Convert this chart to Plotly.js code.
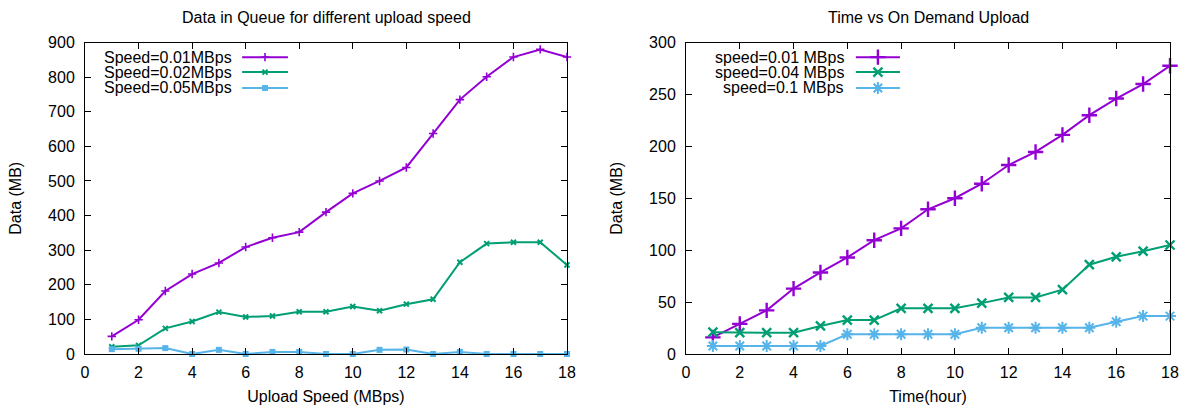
<!DOCTYPE html>
<html>
<head>
<meta charset="utf-8">
<script src="https://cdn.plot.ly/plotly-3.0.1.min.js"></script>
<style>
  html, body { margin: 0; padding: 0; background: #fff; }
  #chart { width: 1187px; height: 409px; }
</style>
</head>
<body>
<div id="chart"></div>
<script>
// ---- Data: queue size vs upload speed ----
const queueX = [1,2,3,4,5,6,7,8,9,10,11,12,13,14,15,16,17,18];
const queue001 = [51,99,182,231,263,309,336,352,410,464,500,539,637,735,801,858,880,858];
const queue002 = [21,25,74,94,121,107,110,122,122,137,125,144,158,265,319,323,323,257];
const queue005 = [14,15,17,0,12,0,6,6,0,0,12,13,0,6,0,0,0,0];
const queueNames = ['Speed=0.01MBps', 'Speed=0.02MBps', 'Speed=0.05MBps'];

// ---- Data: accumulated data vs time ----
const timeX = [1,2,3,4,5,6,7,8,9,10,11,12,13,14,15,16,17,18];
const demand001 = [16,29,42,63,78.5,93,109.6,121,139.4,150,164,182,194.6,211,230,246,260,277.6];
const demand004 = [21,20.5,20.5,20.5,27,32.7,32.7,44,44,44,49,54.5,54.5,62,86,93.6,99,105];
const demand01 = [7.7,7.7,7.7,7.7,7.7,19,19,19,19,19,25.3,25.3,25.3,25.3,25.3,31,36.5,36.5];
const demandNames = ['speed=0.01 MBps', 'speed=0.04 MBps', 'speed=0.1 MBps'];

const PURPLE = '#9400d3', GREEN = '#009e73', BLUE = '#56b4e9';
const FONT = 'Liberation Sans, Arial, sans-serif';

// plot-area geometry in figure fractions
const W = 1187, H = 409;
const yDom = [(H - 354) / H, (H - 42.5) / H];
const leftDom = [85 / W, 567 / W];
const rightDom = [686 / W, 1170 / W];

const leftStyles = [
  {color: PURPLE, symbol: 'cross-thin-open', size: 6, lw: 1.6},
  {color: GREEN, symbol: 'x-thin-open', size: 5, lw: 2},
  {color: BLUE, symbol: 'square', size: 6, lw: 0}
];
const rightStyles = [
  {color: PURPLE, symbol: 'cross-thin-open', size: 11, lw: 2.4},
  {color: GREEN, symbol: 'x-thin-open', size: 9, lw: 2.4},
  {color: BLUE, symbol: 'asterisk-open', size: 10, lw: 2}
];

function series(x, y, st, xa, ya) {
  return {
    x: x, y: y, xaxis: xa, yaxis: ya, type: 'scatter', mode: 'lines+markers',
    showlegend: false, cliponaxis: false, hoverinfo: 'skip',
    line: {color: st.color, width: 2},
    marker: {color: st.color, symbol: st.symbol, size: st.size,
             line: {color: st.color, width: st.lw}}
  };
}

// legend sample: short line with a marker in its middle, on an overlay axis in [0,1]
function sample(x0, x1, yv, st, xa, ya) {
  return [
    {x: [x0, x1], y: [yv, yv], xaxis: xa, yaxis: ya, mode: 'lines', showlegend: false,
     hoverinfo: 'skip', cliponaxis: false, line: {color: st.color, width: 2}},
    {x: [(x0 + x1) / 2], y: [yv], xaxis: xa, yaxis: ya, mode: 'markers', showlegend: false,
     hoverinfo: 'skip', cliponaxis: false,
     marker: {color: st.color, symbol: st.symbol, size: st.size,
              line: {color: st.color, width: st.lw}}}
  ];
}

const rowsY = [0.953, 0.905, 0.854];
const traces = [
  series(queueX, queue001, leftStyles[0], 'x', 'y'),
  series(queueX, queue002, leftStyles[1], 'x', 'y'),
  series(queueX, queue005, leftStyles[2], 'x', 'y'),
  series(timeX, demand001, rightStyles[0], 'x2', 'y2'),
  series(timeX, demand004, rightStyles[1], 'x2', 'y2'),
  series(timeX, demand01, rightStyles[2], 'x2', 'y2')
];
const annotations = [];
for (let i = 0; i < 3; i++) {
  traces.push(...sample(0.326, 0.421, rowsY[i], leftStyles[i], 'x3', 'y3'));
  traces.push(...sample(0.351, 0.442, rowsY[i], rightStyles[i], 'x4', 'y4'));
  annotations.push({xref: 'x3', yref: 'y3', x: 0.035, y: rowsY[i], text: queueNames[i],
    showarrow: false, xanchor: 'left', yanchor: 'middle', font: {family: FONT, size: 16, color: '#000'}});
  annotations.push({xref: 'x4', yref: 'y4', x: 0.331, y: rowsY[i], text: demandNames[i],
    showarrow: false, xanchor: 'right', yanchor: 'middle', font: {family: FONT, size: 16, color: '#000'}});
}
annotations.push({xref: 'paper', yref: 'paper', x: (leftDom[0] + leftDom[1]) / 2, y: (H - 18) / H,
  text: 'Data in Queue for different upload speed', showarrow: false, xanchor: 'center', yanchor: 'middle',
  font: {family: FONT, size: 16, color: '#000'}});
annotations.push({xref: 'paper', yref: 'paper', x: (rightDom[0] + rightDom[1]) / 2, y: (H - 18) / H,
  text: 'Time vs On Demand Upload', showarrow: false, xanchor: 'center', yanchor: 'middle',
  font: {family: FONT, size: 16, color: '#000'}});

function axis(dom, range, dtick, anchor, title, standoff, labelGap) {
  return {
    domain: dom, range: range, dtick: dtick, tick0: 0, anchor: anchor,
    showgrid: false, zeroline: false, showline: true, linecolor: '#000', linewidth: 1,
    mirror: 'ticks', ticks: 'inside', ticklen: 6, tickcolor: '#000', tickwidth: 1,
    ticklabelstandoff: labelGap,
    tickfont: {family: FONT, size: 16, color: '#000'},
    title: {text: title, font: {family: FONT, size: 16, color: '#000'}, standoff: standoff},
    automargin: false, fixedrange: true
  };
}
function overlay(dom, anchor, overlaying) {
  return {domain: dom, range: [0, 1], anchor: anchor, overlaying: overlaying, visible: false, fixedrange: true};
}

const layout = {
  width: W, height: H,
  margin: {l: 0, r: 0, t: 0, b: 0},
  paper_bgcolor: '#fff', plot_bgcolor: '#fff',
  showlegend: false,
  xaxis: axis(leftDom, [0, 18], 2, 'y', 'Upload Speed (MBps)', 10, 4),
  yaxis: axis(yDom, [0, 900], 100, 'x', 'Data (MB)', 22, 6),
  xaxis2: axis(rightDom, [0, 18], 2, 'y2', 'Time(hour)', 10, 4),
  yaxis2: axis(yDom, [0, 300], 50, 'x2', 'Data (MB)', 22, 6),
  xaxis3: overlay(leftDom, 'y3', 'x'),
  yaxis3: overlay(yDom, 'x3', 'y'),
  xaxis4: overlay(rightDom, 'y4', 'x2'),
  yaxis4: overlay(yDom, 'x4', 'y2'),
  annotations: annotations
};

Plotly.newPlot('chart', traces, layout, {staticPlot: true, displayModeBar: false});
</script>
</body>
</html>
